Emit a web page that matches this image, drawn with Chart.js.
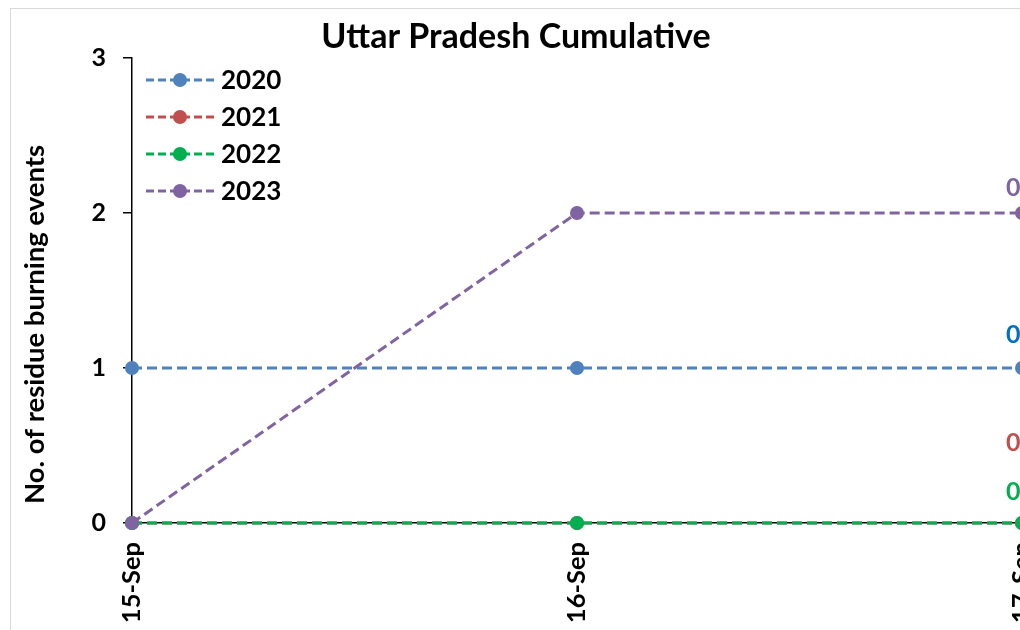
<!DOCTYPE html>
<html>
<head>
<meta charset="utf-8">
<script src="https://cdn.jsdelivr.net/npm/chart.js@4.4.1/dist/chart.umd.min.js"></script>
<style>
  html, body { margin: 0; padding: 0; background: #fff; overflow: hidden; width: 1020px; height: 630px; }
  #wrap { position: relative; width: 1036px; height: 641px; }
</style>
</head>
<body>
<div id="wrap"><canvas id="chart" width="1036" height="641" style="width:1036px;height:641px"></canvas></div>
<script>
// chart data
const dates = ['15-Sep', '16-Sep', '17-Sep'];
const years = ['2020', '2021', '2022', '2023'];
const values2020 = [1, 1, 1];
const values2021 = [0, 0, 0];
const values2022 = [0, 0, 0];
const values2023 = [0, 2, 2];
const endLabels = ['0', '0', '0', '0'];
const yTitle = 'No. of residue burning events';

const FONT = 'Lato, "Open Sans", sans-serif';
const lineColors = ['#4f81bd', '#c0504d', '#00b050', '#8064a2'];
const labelColors = ['#0070c0', '#c0504d', '#00b050', '#8064a2'];
const labelLift = [33, 80, 31, 25];
const DASH = [10, 5];

const series = [values2020, values2021, values2022, values2023];

const datasets = series.map((values, i) => ({
  label: years[i],
  data: values,
  borderColor: lineColors[i],
  backgroundColor: lineColors[i],
  pointBackgroundColor: lineColors[i],
  pointBorderColor: lineColors[i],
  borderWidth: 3,
  borderDash: DASH,
  pointRadius: 7,
  pointBorderWidth: 0,
  pointHoverRadius: 7,
  tension: 0,
  clip: false,
  // later years are drawn on top
  order: series.length - 1 - i,
}));

// grey outer frame, as in the spreadsheet chart
const framePlugin = {
  id: 'frame',
  beforeDraw(chart) {
    const { ctx } = chart;
    ctx.save();
    ctx.strokeStyle = '#d9d9d9';
    ctx.lineWidth = 1;
    ctx.strokeRect(10.5, 8.5, 2000, 2000);
    ctx.restore();
  }
};

// y title is centred a bit lower than the axis, like the original
const yTitlePlugin = {
  id: 'yTitle',
  afterDraw(chart) {
    const { ctx, chartArea } = chart;
    ctx.save();
    ctx.translate(35, (chartArea.top + chartArea.bottom) / 2 + 34);
    ctx.rotate(-Math.PI / 2);
    ctx.font = `bold 27.5px ${FONT}`;
    ctx.fillStyle = '#000';
    ctx.textAlign = 'center';
    ctx.textBaseline = 'middle';
    ctx.fillText(yTitle, 0, 0);
    ctx.restore();
  }
};

// legend drawn inside the plot, top-left
const insideLegend = {
  id: 'insideLegend',
  afterDraw(chart) {
    const { ctx, chartArea } = chart;
    const x0 = chartArea.left + 14;
    ctx.save();
    chart.data.datasets.forEach((ds, i) => {
      const y = chartArea.top + 22 + i * 37;
      ctx.strokeStyle = ds.borderColor;
      ctx.lineWidth = 3;
      ctx.setLineDash([8, 4]);
      ctx.beginPath();
      ctx.moveTo(x0, y);
      ctx.lineTo(x0 + 70, y);
      ctx.stroke();
      ctx.setLineDash([]);
      ctx.fillStyle = ds.borderColor;
      ctx.beginPath();
      ctx.arc(x0 + 34, y, 7, 0, Math.PI * 2);
      ctx.fill();
      ctx.fillStyle = '#000';
      ctx.font = `bold 26px ${FONT}`;
      ctx.textBaseline = 'middle';
      ctx.textAlign = 'left';
      ctx.fillText(ds.label, x0 + 75, y + 1);
    });
    ctx.restore();
  }
};

// value labels above the last point of each series
const endLabelPlugin = {
  id: 'endLabels',
  afterDatasetsDraw(chart) {
    const { ctx } = chart;
    ctx.save();
    ctx.font = `bold 25px ${FONT}`;
    ctx.textBaseline = 'middle';
    ctx.textAlign = 'left';
    chart.data.datasets.forEach((ds, i) => {
      const meta = chart.getDatasetMeta(i);
      const pt = meta.data[meta.data.length - 1];
      ctx.fillStyle = labelColors[i];
      ctx.fillText(endLabels[i], pt.x - 16, pt.y - labelLift[i]);
    });
    ctx.restore();
  }
};

new Chart(document.getElementById('chart').getContext('2d'), {
  type: 'line',
  data: { labels: dates, datasets },
  options: {
    responsive: false,
    animation: false,
    events: [],
    layout: { padding: { left: 10, right: 14, top: 8, bottom: 8 } },
    plugins: {
      legend: { display: false },
      tooltip: { enabled: false },
      title: {
        display: true,
        text: 'Uttar Pradesh Cumulative',
        color: '#000',
        font: { family: FONT, size: 34, weight: 'bold', lineHeight: 1.2 },
        padding: { top: 8.6, bottom: 0.6 },
      },
    },
    scales: {
      x: {
        offset: false,
        grid: { display: false },
        border: { display: true, color: '#000', width: 1.5 },
        ticks: {
          color: '#000',
          font: { family: FONT, size: 25.5, weight: 'bold' },
          minRotation: 90,
          maxRotation: 90,
          autoSkip: false,
          padding: 11,
        },
        afterFit(scale) {
          scale.height = 110;
          scale.paddingLeft = 0;
          scale.paddingRight = 0;
        },
      },
      y: {
        min: 0,
        max: 3,
        grid: { drawOnChartArea: false, drawTicks: true, tickLength: 9, color: '#000', lineWidth: 1.5 },
        border: { display: true, color: '#000', width: 1.5 },
        ticks: {
          stepSize: 1,
          color: '#000',
          font: { family: FONT, size: 25, weight: 'bold' },
          padding: 17,
        },
        afterFit(scale) { scale.width = 122; },
      },
    },
  },
  plugins: [framePlugin, yTitlePlugin, insideLegend, endLabelPlugin],
});
</script>
</body>
</html>
